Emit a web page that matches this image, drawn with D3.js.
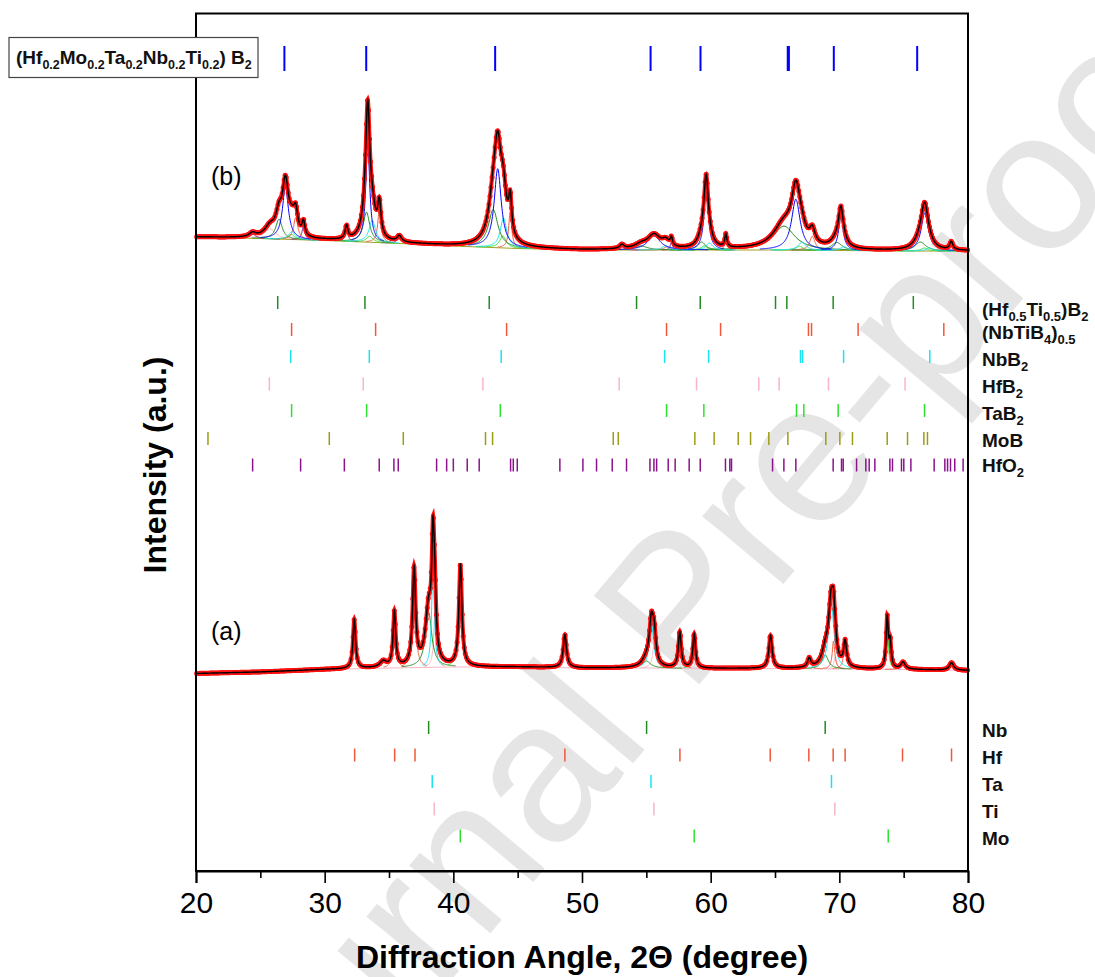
<!DOCTYPE html>
<html>
<head>
<script src="https://cdn.jsdelivr.net/npm/d3@7"></script>
<style>
  body{margin:0;background:#fff;}
  svg{display:block;font-family:"Liberation Sans",Arial,sans-serif;}
</style>
</head>
<body>
<svg></svg>
<script>
// ---- data ----
// background of both patterns, sampled every 5 degrees
var bgAngles = [20,25,30,35,40,45,50,55,60,65,70,75,80];
var bgB = [634,632.5,630.5,628,625,622.5,621,621,621,621,620.5,620,620];
var bgA = [197.5,199,201.5,203,204,204,203,203,202.5,202.5,202,201.5,200.5];

// fitted peaks [2theta, height, half width] for pattern (b)
var bPeaksHEB   = [[26.95,52,0.28],[33.35,100,0.18],[43.45,79,0.33],[55.6,14,0.6],[59.65,63,0.2],[66.62,51,0.4],[70.12,34,0.22],[76.64,38,0.33]];
var bPeaksHfTi  = [[26.45,20,0.3],[33.25,30,0.3],[43.1,38,0.45],[54.6,4,0.6],[59.3,8,0.35],[65.7,24,1.0],[69.8,8,0.5],[76.3,9,0.5]];
var bPeaksNbTiB4= [[27.75,22,0.2],[34.25,33,0.15],[44.42,36,0.14],[56.6,3,0.3],[61.18,13,0.1],[67.9,14,0.25]];
var bPeaksNbB2  = [[27.45,8,0.3],[33.7,22,0.3],[43.9,30,0.3],[56.45,4,0.3],[59.9,7,0.3],[67.1,8,0.35],[70.35,4,0.3],[77.0,3,0.3]];
var bPeaksHfB2  = [[25.75,10,0.5]];
var bPeaksTaB2  = [[27.4,5,0.3],[33.5,6,0.3],[43.85,12,0.3],[59.5,4,0.3],[66.9,4,0.3],[76.6,3,0.3]];
var bPeaksHfO2  = [[24.4,4,0.3],[28.35,14,0.13],[31.7,13,0.13],[35.8,6,0.2],[53.1,4,0.2],[56.95,8,0.1],[78.7,8,0.15]];

// fitted peaks for pattern (a)
var aPeaksHf = [[32.3,49,0.12],[35.42,55,0.12],[36.95,97,0.14],[48.67,33,0.15],[57.6,36,0.13],[64.65,33,0.15],[67.66,9,0.15],[69.55,28,0.12],[70.45,25,0.14],[74.95,7,0.2],[78.72,7.5,0.2]];
var aPeaksNb = [[38.08,55,0.3],[55.0,7,0.4],[68.9,14,0.3]];
var aPeaksTa = [[38.42,105,0.12],[55.4,45,0.2],[69.37,66,0.25]];
var aPeaksTi = [[38.56,50,0.12],[55.62,25,0.15],[69.68,12,0.12]];
var aPeaksMo = [[40.55,102,0.14],[58.72,34,0.12],[73.72,50,0.1]];
var aPeaksOther = [[34.55,6,0.3],[73.95,25,0.1]];

// reference line positions (2theta)
var tickHEB   = [26.87,33.23,43.25,55.33,59.21,65.99,66.08,69.57,76.05];
var tickHfTi  = [26.35,33.13,42.79,54.24,59.19,65.04,65.92,69.52,75.75];
var tickNbTiB4= [27.43,33.96,44.14,56.57,60.77,67.6,67.84,71.46,78.12];
var tickNbB2  = [27.36,33.47,43.72,56.42,59.84,66.98,67.14,70.33,77.03];
var tickHfB2  = [25.7,33.0,42.3,52.89,58.9,63.74,65.32,69.16,75.11];
var tickTaB2  = [27.43,33.26,43.65,56.57,59.47,66.67,67.24,69.91,76.62];
var tickMoB   = [20.93,30.36,36.11,42.5,43.05,52.43,52.82,58.77,60.27,62.14,63.1,64.52,66.0,68.95,70.04,71.02,73.72,75.3,76.57,76.85];
var tickHfO2  = [24.4,28.13,31.53,34.24,35.38,35.72,38.7,39.48,40.0,41.08,42.01,44.45,44.66,44.97,48.28,50.07,51.13,52.35,53.46,55.28,55.59,55.8,56.7,57.24,58.33,59.19,61.15,61.49,61.62,64.81,65.69,66.62,69.52,70.17,70.3,71.34,72.06,72.32,72.76,73.93,74.13,74.83,75.01,75.56,77.37,78.2,78.41,78.64,78.97,79.62];
var tickNb = [38.08,55.02,68.9];
var tickHf = [32.33,35.44,37.02,48.67,57.61,64.63,67.63,69.52,70.45,74.91,78.72];
var tickTa = [38.36,55.36,69.39];
var tickTi = [38.52,55.59,69.65];
var tickMo = [40.54,58.72,73.8];

var xTicks = [20,30,40,50,60,70,80];
var xMinor = [25,35,45,55,65,75];

// ---- layout ----
var W = 1095, H = 977;
var x = d3.scaleLinear().domain([20,80]).range([196,968]);
var y = d3.scaleLinear().domain([0,858]).range([871,13]);

var col = {heb:"#0000ff", hfti:"#228b22", nbtib4:"#f0583a", nbb2:"#19e3f0", hfb2:"#f7b6c4",
           tab2:"#2ee02e", mob:"#9c9c14", hfo2:"#8b138b"};

var svg = d3.select("svg").attr("width",W).attr("height",H);
svg.append("rect").attr("width",W).attr("height",H).attr("fill","#fff");

// watermark
svg.append("text")
  .attr("transform","translate(728,650) rotate(-50)")
  .attr("text-anchor","middle")
  .attr("font-size",200)
  .attr("fill","#e5e5e5")
  .text("Journal Pre-proof");

function lor(p, t){ var d=(t-p[0])/p[2]; return p[1]/(1+d*d); }

var line = d3.line().x(function(d){return x(d[0]);}).y(function(d){return y(d[1]);});

function drawPattern(bgVals, groups, bgColor){
  var bg = d3.scaleLinear().domain(bgAngles).range(bgVals);
  var all = [];
  groups.forEach(function(g){ all = all.concat(g.peaks); });
  var g = svg.append("g");

  // background line
  g.append("path").datum(d3.range(20,80.001,0.5).map(function(t){return [t,bg(t)];}))
    .attr("d",line).attr("fill","none").attr("stroke",bgColor).attr("stroke-width",1);

  // components
  groups.forEach(function(gr){
    if(!gr.color) return;
    gr.peaks.forEach(function(p){
      var lo=Math.max(20,p[0]-7*p[2]), hi=Math.min(80,p[0]+7*p[2]);
      var pts=d3.range(lo,hi,p[2]/12).map(function(t){return [t,bg(t)+lor(p,t)];});
      g.append("path").datum(pts).attr("d",line).attr("fill","none")
        .attr("stroke",gr.color).attr("stroke-width",1);
    });
  });

  function total(t){ var s=bg(t); all.forEach(function(p){ s+=lor(p,t); }); return s; }
  var fit = d3.range(20,80.0001,0.01).map(function(t){return [t,total(t)];});

  // observed points
  g.append("path").datum(fit).attr("d",line).attr("fill","none")
    .attr("stroke","#ff1010").attr("stroke-width",4);
  g.selectAll("circle.obs").data(d3.range(20.05,80,0.08)).enter().append("circle")
    .attr("class","obs").attr("cx",function(t){return x(t);}).attr("cy",function(t){return y(total(t));})
    .attr("r",2.5).attr("fill","#ff1010");

  // fit
  g.append("path").datum(fit).attr("d",line).attr("fill","none")
    .attr("stroke","#000").attr("stroke-width",1.4);
}

drawPattern(bgB, [
  {peaks:bPeaksHfB2, color:col.hfb2},
  {peaks:bPeaksHfO2, color:col.hfo2},
  {peaks:bPeaksTaB2, color:col.tab2},
  {peaks:bPeaksNbTiB4, color:col.nbtib4},
  {peaks:bPeaksHfTi, color:col.hfti},
  {peaks:bPeaksNbB2, color:col.nbb2},
  {peaks:bPeaksHEB, color:col.heb}
], "#a0a020");

drawPattern(bgA, [
  {peaks:aPeaksTi, color:col.hfb2},
  {peaks:aPeaksHf, color:col.nbtib4},
  {peaks:aPeaksNb, color:col.hfti},
  {peaks:aPeaksMo, color:col.tab2},
  {peaks:aPeaksTa, color:col.nbb2},
  {peaks:aPeaksOther, color:null}
], "#f7b6c4");

// reference tick rows: centre (intensity units), label pieces [text, subscript?]
var rows = [
  {ticks:tickHfTi,   color:col.hfti,   yc:568.5, label:[["(Hf",0],["0.5",1],["Ti",0],["0.5",1],[")B",0],["2",1]], ly:13},
  {ticks:tickNbTiB4, color:col.nbtib4, yc:541.5, label:[["(NbTiB",0],["4",1],[")",0],["0.5",1]], ly:9.5},
  {ticks:tickNbB2,   color:col.nbb2,   yc:514.5, label:[["NbB",0],["2",1]], ly:9.5},
  {ticks:tickHfB2,   color:col.hfb2,   yc:487,   label:[["HfB",0],["2",1]], ly:9},
  {ticks:tickTaB2,   color:col.tab2,   yc:460.5, label:[["TaB",0],["2",1]], ly:9.5},
  {ticks:tickMoB,    color:col.mob,    yc:432.5, label:[["MoB",0]], ly:8.5},
  {ticks:tickHfO2,   color:col.hfo2,   yc:406,   label:[["HfO",0],["2",1]], ly:7},
  {ticks:tickNb, color:col.hfti,   yc:143.5, label:[["Nb",0]], ly:9},
  {ticks:tickHf, color:col.nbtib4, yc:116,   label:[["Hf",0]], ly:9},
  {ticks:tickTa, color:col.nbb2,   yc:89.5,  label:[["Ta",0]], ly:9},
  {ticks:tickTi, color:col.hfb2,   yc:62,    label:[["Ti",0]], ly:9},
  {ticks:tickMo, color:col.tab2,   yc:35,    label:[["Mo",0]], ly:9}
];

function subText(t, parts, big, small){
  parts.forEach(function(s,i){
    var prev = i>0 ? parts[i-1][1] : 0;
    t.append("tspan").text(s[0]).attr("font-size",s[1]?small:big)
      .attr("dy", s[1] && !prev ? 5 : (!s[1] && prev ? -5 : 0));
  });
}

rows.forEach(function(r){
  var yc = y(r.yc);
  svg.append("g").selectAll("line").data(r.ticks).enter().append("line")
    .attr("x1",function(d){return x(d);}).attr("x2",function(d){return x(d);})
    .attr("y1",yc-6.5).attr("y2",yc+6.5)
    .attr("stroke",r.color).attr("stroke-width",1.5);
  var t = svg.append("text").attr("x",982).attr("y",yc+r.ly)
    .attr("font-weight","bold").attr("fill","#111");
  subText(t, r.label, 19, 13);
});

// blue HEB ticks at the top
svg.append("g").selectAll("line").data(tickHEB).enter().append("line")
  .attr("x1",function(d){return x(d);}).attr("x2",function(d){return x(d);})
  .attr("y1",y(812.5)-12.5).attr("y2",y(812.5)+12.5)
  .attr("stroke",col.heb).attr("stroke-width",2);

// frame
svg.append("rect").attr("x",196).attr("y",13.5).attr("width",772).attr("height",857.5)
  .attr("fill","none").attr("stroke","#000").attr("stroke-width",2);

// x axis
var xAxis = d3.axisBottom(x).tickValues(xTicks).tickSize(12).tickPadding(9).tickFormat(d3.format("d"));
var gx = svg.append("g").attr("transform","translate(0,871)").call(xAxis);
gx.select(".domain").attr("stroke-width",2);
gx.selectAll(".tick line").attr("stroke-width",1.6);
gx.selectAll("text").attr("font-size",30).attr("font-family","Liberation Sans, Arial").attr("fill","#000");
var gm = svg.append("g").attr("transform","translate(0,871)")
  .call(d3.axisBottom(x).tickValues(xMinor).tickSize(7).tickFormat(""));
gm.select(".domain").remove();
gm.selectAll(".tick line").attr("stroke-width",1.6);

// axis titles
svg.append("text").attr("x",582).attr("y",968).attr("text-anchor","middle")
  .attr("font-size",32).attr("font-weight","bold").text("Diffraction Angle, 2\u0398 (degree)");
svg.append("text").attr("transform","translate(166,465) rotate(-90)").attr("text-anchor","middle")
  .attr("font-size",32).attr("font-weight","bold").text("Intensity (a.u.)");

// pattern labels
svg.append("text").attr("x",211).attr("y",185).attr("font-size",25).text("(b)");
svg.append("text").attr("x",211).attr("y",640).attr("font-size",25).text("(a)");

// legend box
svg.append("rect").attr("x",9).attr("y",37.5).attr("width",249).attr("height",40)
  .attr("fill","#fff").attr("stroke","#444").attr("stroke-width",1.2);
var lt = svg.append("text").attr("x",16).attr("y",64).attr("font-weight","bold").attr("fill","#111");
subText(lt, [["(Hf",0],["0.2",1],["Mo",0],["0.2",1],["Ta",0],["0.2",1],["Nb",0],["0.2",1],["Ti",0],["0.2",1],[") B",0],["2",1]], 19, 12.5);
</script>
</body>
</html>
